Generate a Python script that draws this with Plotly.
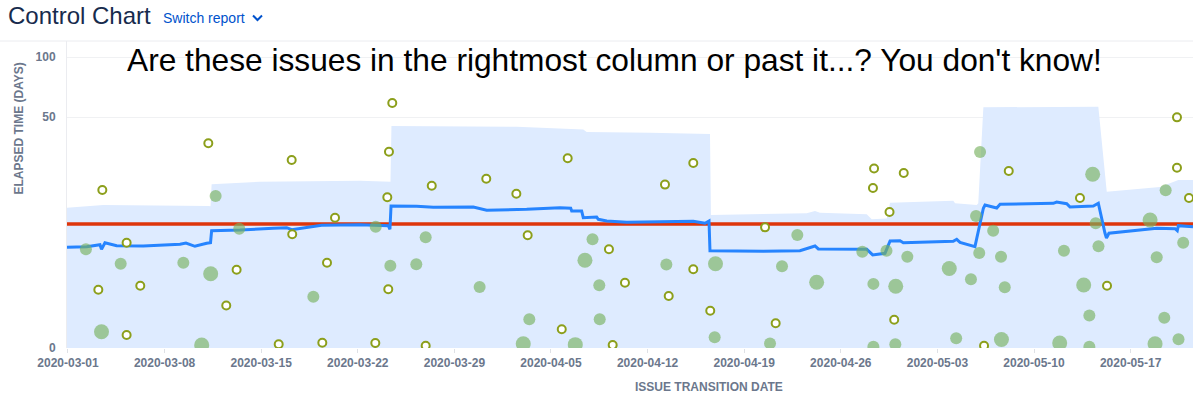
import numpy as np
import pandas as pd
import plotly.graph_objects as go

START = pd.Timestamp("2020-03-01")

# ---------------- data (days since 2020-03-01, elapsed time in days) ----------------
# individual issues (hollow markers)
issue_day = [2.20, 2.49, 4.25, 4.25, 5.24, 10.17, 11.47, 12.22, 15.27, 16.21,
             16.25, 18.43, 18.77, 19.35, 22.27, 23.14, 23.21, 23.26, 23.50, 25.92,
             26.36, 30.31, 32.49, 33.31, 35.78, 36.21, 39.20, 39.47, 40.36, 43.26,
             43.53, 45.31, 45.31, 46.54, 50.51, 51.28, 58.33, 58.41, 59.53, 59.87,
             60.56, 66.38, 68.17, 73.33, 75.29, 80.36, 80.36, 81.23]
issue_elapsed = [0.80, 16.0, 4.74, 0.009, 0.98, 34.8, 0.31, 1.95, 0.0002, 27.0,
                 5.97, 0.0006, 2.52, 8.98, 0.0005, 13.9, 0.82, 30.7, 59.7, 0.00005,
                 17.35, 19.7, 14.9, 5.81, 0.027, 27.7, 3.90, 0.0001, 1.13, 17.7,
                 0.57, 25.7, 1.98, 0.21, 7.13, 0.062, 16.6, 23.5, 10.2, 0.091,
                 21.75, 0.00004, 22.5, 13.7, 0.98, 49.8, 23.75, 13.7]

# clusters of issues (filled markers)
cluster_day = [1.30, 2.43, 3.82, 8.36, 9.69, 10.34, 10.70, 12.41, 17.78, 22.30,
               23.36, 25.24, 25.92, 29.83, 32.99, 33.43, 36.76, 37.46, 38.01, 38.50,
               38.53, 43.36, 46.86, 46.92, 50.87, 51.74, 52.85, 54.25, 57.56, 58.36,
               58.36, 59.31, 59.98, 59.95, 60.82, 63.86, 64.36, 65.43, 65.80, 66.03,
               66.09, 67.04, 67.61, 67.64, 67.88, 71.86, 72.17, 73.60, 74.01, 74.01,
               74.25, 74.47, 74.67, 78.41, 78.77, 78.89, 79.44, 79.54, 80.47, 80.81]
cluster_elapsed = [3.90, 0.0176, 2.43, 2.52, 0.0001, 1.665, 14.25, 6.89, 0.548, 7.25,
                   2.26, 2.39, 5.51, 0.917, 0.0003, 0.096, 0.00015, 2.74, 5.21, 1.0,
                   0.097, 2.36, 0.0051, 2.43, 0.0004, 2.22, 5.86, 1.15, 3.61, 1.07,
                   0.00001, 3.73, 0.958, 0.0002, 3.09, 2.04, 0.0037, 1.32, 9.34, 3.48,
                   30.56, 6.53, 3.09, 0.0025, 0.908, 0.0005, 3.73, 1.015, 0.139, 0.00001,
                   21.3, 7.87, 4.28, 8.51, 0.0003, 3.04, 0.113, 15.9, 0.0027, 4.74]
cluster_count = [2, 3, 2, 2, 3, 3, 2, 2, 2, 2,
                 2, 2, 2, 2, 3, 2, 3, 3, 2, 2,
                 2, 2, 2, 3, 2, 2, 2, 3, 2, 2,
                 2, 2, 3, 2, 2, 3, 2, 2, 2, 2,
                 2, 2, 2, 3, 2, 3, 2, 3, 2, 2,
                 3, 2, 2, 3, 3, 2, 2, 2, 2, 2]

# rolling average
avg_day = [-0.09, 1.36, 2.32, 2.43, 2.68, 3.53, 5.46, 8.12, 8.55, 9.20,
           10.05, 10.33, 10.41, 12.46, 14.88, 15.85, 16.21, 17.78, 18.38, 21.16,
           23.21, 23.33, 23.41, 25.27, 26.47, 29.37, 30.34, 33.24, 35.65, 36.43,
           36.50, 37.22, 37.34, 38.31, 38.43, 39.04, 40.49, 45.31, 46.16, 46.45,
           46.52, 50.38, 53.04, 54.13, 54.37, 57.88, 58.31, 59.20, 59.57, 60.29,
           60.53, 64.15, 64.40, 64.64, 65.72, 66.33, 66.45, 67.30, 67.54, 71.40,
           71.64, 72.37, 72.61, 74.30, 74.66, 75.14, 75.25, 75.43, 78.41, 78.89,
           80.22, 80.38, 80.46, 81.52]
avg_elapsed = [4.15, 4.22, 4.47, 3.90, 4.74, 4.35, 4.31, 4.53, 4.70, 4.27,
               4.66, 4.74, 6.55, 6.67, 6.96, 7.07, 6.72, 7.25, 7.50, 7.61,
               7.43, 6.79, 11.62, 11.55, 11.31, 11.38, 10.60, 10.83, 11.21, 11.07,
               10.44, 10.44, 8.98, 9.12, 8.65, 8.31, 8.06, 8.26, 7.87, 8.31,
               3.74, 3.67, 3.74, 4.31, 3.94, 3.90, 3.27, 3.45, 4.97, 5.01,
               4.74, 4.93, 5.21, 4.79, 4.22, 11.07, 11.87, 11.14, 12.04, 12.30,
               12.63, 12.20, 11.38, 11.62, 12.30, 6.17, 5.40, 6.13, 6.79, 6.96,
               6.89, 6.55, 7.43, 7.25]

# standard deviation band (upper edge; lower edge is 0)
band_day = [-0.09, 2.56, 10.17, 10.33, 10.41, 13.91, 21.16, 23.28, 23.37, 23.44,
            32.51, 37.34, 37.59, 42.17, 46.52, 46.59, 53.53, 54.13, 54.49, 57.88,
            58.24, 59.33, 59.57, 64.15, 64.28, 65.85, 65.96, 66.33, 74.66, 75.27,
            79.13, 79.37, 80.46, 81.52]
band_upper = [11.21, 11.87, 11.62, 11.55, 17.81, 18.67, 19.01, 18.67, 18.67, 44.41,
              43.99, 42.34, 40.90, 40.51, 39.78, 9.55, 9.92, 10.44, 10.05, 9.70,
              8.65, 8.82, 12.45, 12.97, 12.30, 11.87, 12.30, 56.60, 57.03, 15.50,
              16.94, 17.35, 19.25, 19.25]

mean_elapsed = 7.74

y_tick_values = [0, 50, 100]
y_tick_labels = ["0", "50", "100"]

# ---------------- helpers ----------------
def to_dates(days):
    return START + pd.to_timedelta(np.asarray(days, dtype=float), unit="D")

def scale(v):
    # Jira's control chart draws elapsed time on a cube-root scale
    return np.cbrt(np.asarray(v, dtype=float))

FONT = "Liberation Sans, Arial, Helvetica, sans-serif"
GREY = "#6b778c"
X_RANGE_DAYS = [-0.07, 81.52]
Y_TOP = 4.897

fig = go.Figure()

fig.add_trace(go.Scatter(
    x=to_dates(band_day), y=scale(band_upper), mode="lines",
    line=dict(width=0), fill="tozeroy", fillcolor="#deebff",
    hoverinfo="skip", name="Standard deviation"))

fig.add_trace(go.Scatter(
    x=to_dates(X_RANGE_DAYS), y=scale([mean_elapsed, mean_elapsed]), mode="lines",
    line=dict(color="#de350b", width=3.5), name="Average"))

fig.add_trace(go.Scatter(
    x=to_dates(avg_day), y=scale(avg_elapsed), mode="lines",
    line=dict(color="#2684ff", width=3), name="Rolling average"))

fig.add_trace(go.Scatter(
    x=to_dates(cluster_day), y=scale(cluster_elapsed), mode="markers",
    marker=dict(size=[6 + 3 * c for c in cluster_count],
                color="rgba(120,178,95,0.92)", line=dict(width=0)),
    name="Cluster of issues"))

fig.add_trace(go.Scatter(
    x=to_dates(issue_day), y=scale(issue_elapsed), mode="markers",
    marker=dict(size=8, color="white", line=dict(color="#8c9f1b", width=2)),
    name="Issue"))

PW = 1126.0
PH = 307.0

def px_x(p):
    return (p - 67) / PW

def px_y(p):
    return (348 - p) / PH

fig.update_layout(
    width=1193, height=399,
    margin=dict(l=67, r=0, t=41, b=51),
    paper_bgcolor="white", plot_bgcolor="white",
    showlegend=False,
    font=dict(family=FONT),
    xaxis=dict(
        type="date", range=list(to_dates(X_RANGE_DAYS)),
        tick0="2020-03-01", dtick=7 * 86400000, tickformat="%Y-%m-%d",
        tickfont=dict(family=FONT, size=12, color=GREY, weight="bold"),
        ticks="outside", ticklen=4, tickcolor="#dfe1e6",
        showgrid=False, zeroline=False, showline=False,
    ),
    yaxis=dict(
        range=[0, Y_TOP], tickvals=list(scale(y_tick_values)), ticktext=y_tick_labels,
        tickfont=dict(family=FONT, size=12, color=GREY, weight="bold"),
        showgrid=True, gridcolor="#f0f1f3", gridwidth=1,
        zeroline=False, showline=True, linecolor="#ebecf0", linewidth=1,
        ticks="", ticklabelstandoff=8,
    ),
    shapes=[
        dict(type="line", xref="paper", yref="paper", x0=px_x(0), x1=1, y0=1, y1=1,
             line=dict(color="#ebecf0", width=1)),
        dict(type="path", xref="paper", yref="paper",
             path=f"M {px_x(253)},{px_y(15.5)} L {px_x(257.5)},{px_y(20)} L {px_x(262)},{px_y(15.5)}",
             line=dict(color="#0052cc", width=2)),
    ],
    annotations=[
        dict(text="Control Chart", xref="paper", yref="paper", x=px_x(6), y=px_y(16),
             xanchor="left", yanchor="middle", showarrow=False,
             font=dict(family=FONT, size=24, color="#172b4d")),
        dict(text="Switch report", xref="paper", yref="paper", x=px_x(161), y=px_y(18),
             xanchor="left", yanchor="middle", showarrow=False,
             font=dict(family=FONT, size=14, color="#0052cc")),
        dict(text="Are these issues in the rightmost column or past it...? You don't know!",
             xref="paper", yref="paper", x=px_x(614.5), y=px_y(60),
             xanchor="center", yanchor="middle", showarrow=False,
             font=dict(family=FONT, size=31.7, color="black")),
        dict(text="ELAPSED TIME (DAYS)", xref="paper", yref="paper", x=px_x(18), y=px_y(128.5),
             xanchor="center", yanchor="middle", textangle=-90, showarrow=False,
             font=dict(family=FONT, size=12, color=GREY, weight="bold")),
        dict(text="ISSUE TRANSITION DATE", xref="paper", yref="paper", x=px_x(709), y=px_y(387),
             xanchor="center", yanchor="middle", showarrow=False,
             font=dict(family=FONT, size=12, color=GREY, weight="bold")),
    ],
)

fig.write_html(
    "out.html",
    config={"displayModeBar": False},
    post_script="document.body.style.margin='0';document.body.style.padding='0';"
                "document.body.style.overflow='hidden';",
)
